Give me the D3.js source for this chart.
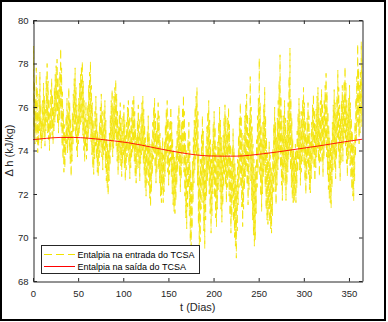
<!DOCTYPE html>
<html>
<head>
<meta charset="utf-8">
<script src="https://cdn.jsdelivr.net/npm/d3@7"></script>
<style>
  html, body { margin: 0; padding: 0; background: #fff; }
  svg { display: block; font-family: "Liberation Sans", Arial, Helvetica, sans-serif; }
</style>
</head>
<body>
<svg id="chart" width="388" height="322"></svg>
<script>
// Daily maximum of the inlet enthalpy (kJ/kg), one value per day of the year
const entradaMax = [
  78.8, 77.2, 76.4, 77.8, 76.9, 75.8, 76.6, 77.6, 76.2, 75.4,
  76.3, 77.1, 76.5, 75.9, 77.4, 78.0, 77.2, 76.4, 75.7, 76.8,
  77.3, 76.6, 76.0, 76.9, 77.5, 77.9, 78.2, 77.4, 76.8, 77.6,
  78.7, 77.8, 76.7, 75.9, 75.2, 74.8, 75.6, 76.4, 75.8, 76.9,
  76.2, 75.5, 74.9, 75.7, 76.6, 77.3, 77.8, 76.9, 76.1, 75.6,
  76.4, 77.1, 77.5, 77.9, 78.1, 77.2, 76.3, 75.5, 76.2, 75.4,
  76.1, 77.0, 77.6, 78.1, 77.0, 76.2, 75.4, 74.9, 75.8, 76.5,
  75.7, 74.9, 74.6, 75.3, 76.0, 76.6, 75.8, 75.1, 75.9, 76.3,
  75.4, 74.6, 74.3, 74.0, 74.8, 75.6, 76.3, 76.8, 76.0, 76.5,
  76.9, 77.25, 76.6, 75.8, 75.1, 75.7, 76.2, 75.5, 74.9, 75.6,
  76.1, 75.4, 74.7, 75.3, 76.0, 76.3, 75.6, 74.9, 75.5, 76.0,
  76.3, 76.5, 75.8, 75.0, 74.6, 75.4, 76.1, 75.5, 74.8, 75.7,
  76.2, 76.5, 75.9, 75.2, 74.6, 74.2, 74.9, 75.6, 74.8, 74.3,
  73.9, 74.5, 75.3, 76.0, 76.4, 75.7, 74.9, 75.5, 76.2, 75.6,
  74.8, 74.2, 73.9, 74.6, 73.8, 74.4, 75.2, 75.9, 76.3, 75.5,
  74.8, 75.4, 76.0, 75.3, 74.6, 74.0, 73.7, 73.5, 74.2, 74.9,
  75.6, 76.1, 75.4, 74.7, 75.3, 76.0, 76.55, 75.8, 74.9, 74.1,
  73.6, 74.5, 75.3, 74.4, 73.2, 72.6, 73.5, 74.6, 75.4, 76.0,
  76.5, 76.9, 75.8, 74.1, 72.9, 73.6, 74.8, 75.6, 74.9, 73.8,
  73.1, 74.2, 75.1, 75.8, 76.3, 75.4, 74.5, 73.6, 74.3, 75.2,
  75.8, 75.1, 74.2, 73.5, 74.4, 75.3, 76.0, 75.4, 74.6, 73.9,
  74.7, 75.5, 76.1, 75.6, 74.8, 75.5, 76.0, 75.2, 74.3, 73.5,
  74.2, 75.0, 74.1, 73.4, 72.9, 72.4, 73.6, 74.7, 75.5, 76.2,
  75.6, 74.8, 73.9, 74.7, 75.6, 76.1, 76.6, 75.7, 74.8, 75.5,
  77.4, 76.0, 75.1, 74.3, 73.6, 72.9, 73.3, 74.5, 75.6, 76.4,
  78.25, 76.2, 75.2, 74.5, 75.3, 76.1, 76.9, 75.6, 74.6, 73.9,
  73.5, 74.4, 73.8, 73.3, 73.0, 74.1, 75.2, 76.0, 75.3, 74.6,
  75.5, 76.3, 77.2, 78.4, 76.5, 75.6, 74.8, 75.6, 76.3, 75.5,
  74.7, 75.4, 76.2, 77.4, 78.7, 76.4, 75.5, 74.6, 74.0, 73.7,
  74.3, 74.0, 74.9, 75.7, 76.4, 75.8, 75.1, 75.8, 76.3, 76.9,
  76.2, 75.4, 74.7, 75.5, 76.2, 75.6, 74.8, 74.4, 75.3, 76.1,
  76.6, 75.9, 75.2, 75.9, 76.5, 76.9, 76.2, 75.5, 76.3, 76.8,
  76.2, 75.6, 76.4, 77.0, 77.55, 76.7, 75.8, 75.1, 74.6, 74.2,
  74.5, 75.3, 76.1, 76.8, 76.2, 75.7, 76.5, 77.7, 76.9, 76.1,
  75.5, 76.3, 77.0, 76.4, 77.2, 77.85, 77.1, 76.3, 75.7, 76.4,
  77.0, 76.2, 75.5, 74.9, 74.4, 74.2, 75.3, 76.4, 77.4, 78.9,
  77.8, 77.0, 77.6, 79.0, 78.2
];

// Daily minimum of the inlet enthalpy (kJ/kg)
const entradaMin = [
  74.6, 74.9, 74.3, 74.8, 74.4, 73.9, 74.2, 74.9, 74.5, 74.1,
  74.4, 74.8, 74.6, 74.2, 74.9, 75.3, 74.8, 74.5, 74.0, 74.6,
  75.0, 74.7, 74.3, 74.9, 75.3, 75.6, 75.8, 75.2, 74.8, 75.4,
  75.9, 75.1, 74.2, 73.6, 73.0, 73.2, 73.8, 74.3, 73.9, 74.5,
  74.0, 73.4, 72.8, 73.5, 74.2, 74.9, 75.2, 74.6, 74.0, 73.7,
  74.3, 74.8, 75.1, 75.3, 75.5, 74.7, 74.0, 73.5, 74.1, 73.6,
  74.0, 74.6, 75.0, 75.2, 74.4, 73.8, 73.2, 72.9, 73.6, 74.2,
  73.6, 73.0, 72.8, 73.3, 73.9, 74.4, 73.7, 73.1, 73.8, 74.0,
  73.2, 72.6, 72.3, 71.95, 72.6, 73.3, 74.0, 74.4, 73.7, 74.1,
  74.5, 74.8, 74.2, 73.5, 72.9, 73.4, 73.9, 73.3, 72.8, 73.4,
  73.8, 73.2, 72.6, 73.1, 73.7, 74.0, 73.3, 72.7, 73.2, 73.6,
  73.9, 74.1, 73.5, 72.8, 72.5, 73.1, 73.7, 73.2, 72.6, 73.4,
  73.8, 74.0, 73.4, 72.9, 72.3, 71.9, 72.5, 73.1, 72.4, 71.8,
  71.4, 72.1, 72.9, 73.6, 73.9, 73.2, 72.5, 73.0, 73.7, 73.1,
  72.5, 71.9, 71.6, 72.2, 71.6, 72.1, 72.8, 73.4, 73.7, 73.0,
  72.4, 72.9, 73.5, 72.8, 72.0, 71.5, 71.2, 71.1, 71.7, 72.4,
  73.0, 73.5, 72.8, 72.1, 72.7, 73.4, 73.8, 73.0, 71.9, 70.9,
  70.4, 71.4, 72.3, 71.0, 69.8, 69.3, 70.4, 71.6, 72.5, 73.1,
  73.6, 73.8, 72.4, 70.6, 68.9, 69.8, 71.3, 72.4, 71.6, 70.3,
  69.5, 70.8, 71.9, 72.6, 73.1, 72.0, 71.1, 70.2, 71.0, 72.0,
  72.6, 71.8, 70.9, 70.5, 71.3, 72.2, 72.8, 72.1, 71.3, 70.7,
  71.5, 72.3, 72.9, 72.4, 71.6, 72.3, 72.8, 71.9, 71.0, 70.2,
  70.9, 71.8, 70.7, 70.0, 69.6, 69.05, 70.3, 71.5, 72.3, 72.9,
  72.3, 71.4, 70.5, 71.3, 72.2, 72.8, 73.3, 72.4, 71.5, 72.2,
  73.6, 72.6, 71.7, 70.8, 70.1, 69.6, 69.9, 71.1, 72.3, 73.0,
  73.8, 72.8, 71.9, 71.2, 72.0, 72.8, 73.3, 72.3, 71.3, 70.8,
  70.6, 71.3, 70.7, 70.4, 70.2, 71.0, 72.1, 72.8, 72.1, 71.5,
  72.4, 73.1, 73.6, 74.0, 73.2, 72.4, 71.7, 72.5, 73.2, 72.4,
  71.7, 72.4, 73.0, 73.6, 74.0, 73.1, 72.3, 71.8, 71.6, 71.6,
  71.9, 71.6, 72.3, 73.0, 73.6, 73.1, 72.4, 73.0, 73.5, 73.9,
  73.3, 72.6, 72.0, 72.7, 73.4, 72.9, 72.2, 72.05, 72.7, 73.4,
  73.8, 73.2, 72.6, 73.2, 73.7, 74.1, 73.5, 72.8, 73.5, 74.0,
  73.4, 72.8, 73.6, 74.1, 74.5, 73.7, 72.9, 72.2, 71.8, 71.6,
  71.35, 72.3, 73.1, 73.8, 73.2, 72.7, 73.6, 74.6, 73.9, 73.2,
  72.6, 73.4, 74.1, 73.5, 74.3, 74.8, 74.2, 73.4, 72.8, 73.6,
  74.1, 73.3, 72.7, 72.2, 71.9, 71.7, 72.6, 73.7, 74.5, 75.3,
  75.0, 74.3, 74.8, 75.6, 75.1
];

// Outlet enthalpy (kJ/kg), sampled every 15 days
const saidaDias  = [0, 15, 30, 45, 60, 75, 90, 105, 120, 135, 150, 165, 180,
                    195, 210, 225, 240, 255, 270, 285, 300, 315, 330, 345, 365];
const saidaValor = [74.50, 74.56, 74.60, 74.60, 74.57, 74.51, 74.44, 74.36, 74.25,
                    74.12, 74.00, 73.89, 73.80, 73.75, 73.74, 73.74, 73.78, 73.85,
                    73.93, 74.02, 74.11, 74.20, 74.30, 74.40, 74.52];

const xTicks = [0, 50, 100, 150, 200, 250, 300, 350];
const yTicks = [68, 70, 72, 74, 76, 78, 80];
const legendLabels = ["Entalpia na entrada do TCSA", "Entalpia na saída do TCSA"];

const svg = d3.select("#chart");
const axisColor = "#262626";
const yellow = "#f2e300";
const m = { left: 33, right: 362.5, top: 20, bottom: 281 };

// Figure frame
svg.append("rect").attr("x", 1).attr("y", 1).attr("width", 384).attr("height", 319)
  .attr("fill", "#fff").attr("stroke", "#000").attr("stroke-width", 2);

const x = d3.scaleLinear().domain([0, 365]).range([m.left, m.right]);
const y = d3.scaleLinear().domain([68, 80]).range([m.bottom, m.top]);

svg.append("clipPath").attr("id", "plot-clip")
  .append("rect").attr("x", m.left).attr("y", m.top)
  .attr("width", m.right - m.left).attr("height", m.bottom - m.top);

// Inlet series: one trough and one peak per day
const entrada = [];
entradaMax.forEach((mx, d) => {
  entrada.push([d + 0.25, entradaMin[d]]);
  entrada.push([d + 0.65, mx]);
});

const plot = svg.append("g").attr("clip-path", "url(#plot-clip)");

plot.append("path")
  .datum(entrada)
  .attr("fill", "none")
  .attr("stroke", yellow)
  .attr("stroke-width", 0.8)
  .attr("stroke-dasharray", "8,4")
  .attr("d", d3.line().x(d => x(d[0])).y(d => y(d[1])));

plot.append("path")
  .datum(saidaDias.map((d, i) => [d, saidaValor[i]]))
  .attr("fill", "none")
  .attr("stroke", "#ff0000")
  .attr("stroke-width", 0.9)
  .attr("d", d3.line().x(d => x(d[0])).y(d => y(d[1])).curve(d3.curveMonotoneX));

// Axes (box with inward ticks on all sides)
function styleAxis(g) {
  g.selectAll("path.domain").attr("stroke", axisColor);
  g.selectAll(".tick line").attr("stroke", axisColor);
  g.selectAll("text").attr("fill", axisColor).attr("font-size", "9.5px")
    .attr("font-family", "'Liberation Sans', Arial, sans-serif");
}

svg.append("g").attr("transform", `translate(0,${m.bottom + 0.5})`)
  .call(d3.axisBottom(x).tickValues(xTicks).tickSizeInner(-3.5).tickSizeOuter(0).tickPadding(8.5))
  .call(styleAxis);
svg.append("g").attr("transform", `translate(0,${m.top + 0.5})`)
  .call(d3.axisTop(x).tickValues(xTicks).tickSizeInner(-3.5).tickSizeOuter(0).tickFormat(""))
  .call(styleAxis);
svg.append("g").attr("transform", `translate(${m.left + 0.5},0)`)
  .call(d3.axisLeft(y).tickValues(yTicks).tickSizeInner(-3.5).tickSizeOuter(0).tickPadding(5))
  .call(styleAxis);
svg.append("g").attr("transform", `translate(${m.right},0)`)
  .call(d3.axisRight(y).tickValues(yTicks).tickSizeInner(-3.5).tickSizeOuter(0).tickFormat(""))
  .call(styleAxis);

// Axis titles
svg.append("text")
  .attr("x", (m.left + m.right) / 2).attr("y", 311)
  .attr("text-anchor", "middle").attr("font-size", "11px").attr("fill", axisColor)
  .text("t (Dias)");
svg.append("text")
  .attr("transform", `translate(13,${(m.top + m.bottom) / 2}) rotate(-90)`)
  .attr("text-anchor", "middle").attr("font-size", "11px").attr("fill", axisColor)
  .text("Δ h (kJ/kg)");

// Legend
const lg = svg.append("g");
lg.append("rect").attr("x", 41.5).attr("y", 245.5).attr("width", 158).attr("height", 28)
  .attr("fill", "#fff").attr("stroke", axisColor).attr("stroke-width", 1);
const legendStyles = [
  { color: yellow, dash: "8,4" },
  { color: "#ff0000", dash: null }
];
legendLabels.forEach((label, i) => {
  const yy = 254.5 + i * 12;
  lg.append("line").attr("x1", 44).attr("x2", 75).attr("y1", yy).attr("y2", yy)
    .attr("stroke", legendStyles[i].color).attr("stroke-width", 1)
    .attr("stroke-dasharray", legendStyles[i].dash);
  lg.append("text").attr("x", 77.5).attr("y", yy + 3.3)
    .attr("font-size", "9px").attr("fill", "#000").text(label);
});
</script>
</body>
</html>
